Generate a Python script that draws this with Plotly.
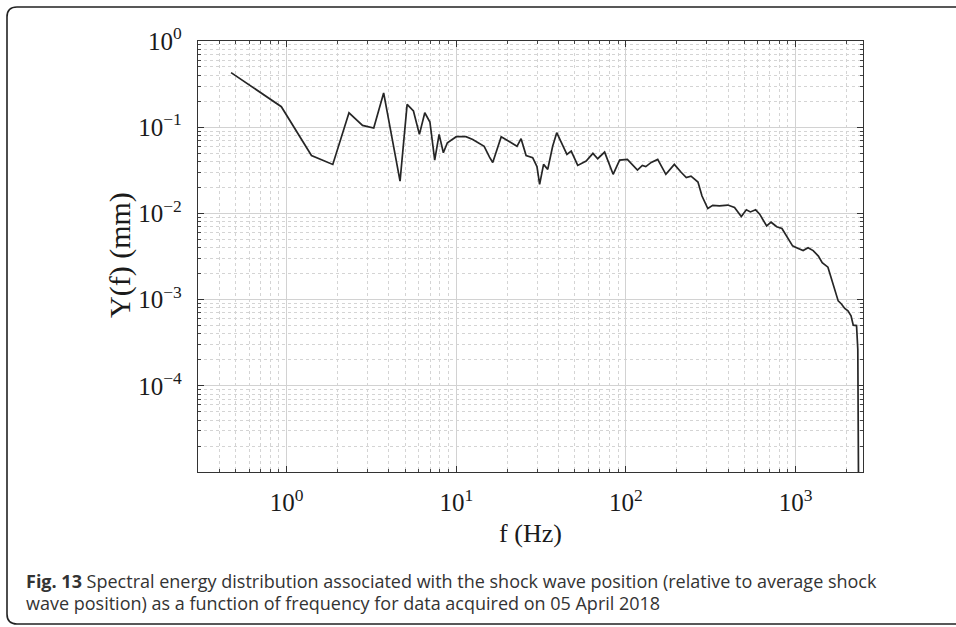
import plotly.graph_objects as go
import math

# ---- data ----
freq_hz = [0.47, 0.93, 1.40, 1.87, 2.33, 2.80, 3.26, 3.73, 4.66, 5.13, 5.59, 6.06, 6.52,
           6.99, 7.46, 7.92, 8.39, 8.86, 10.0, 11.4, 12.5, 13.7, 14.6, 15.7, 16.4, 18.4,
           21.1, 22.8, 24.1, 25.8, 28.2, 29.9, 31.0, 32.7, 34.6, 37.0, 39.1, 41.5, 44.9,
           47.6, 52.0, 58.3, 63.9, 68.2, 74.9, 84.1, 91.8, 102, 117, 125, 131, 141, 154,
           172, 193, 211, 227, 242, 266, 281, 304, 325, 356, 399, 437, 479, 513, 542, 582,
           615, 676, 718, 775, 832, 897, 961, 1030, 1109, 1186, 1271, 1364, 1437, 1553,
           1620, 1690, 1785, 1865, 1952, 2038, 2125, 2190, 2290, 2330, 2360, 2380]
amp_mm = [0.43, 0.173, 0.047, 0.037, 0.147, 0.105, 0.098, 0.25, 0.0237, 0.184, 0.154, 0.0826,
          0.147, 0.115, 0.0416, 0.0826, 0.0506, 0.066, 0.0776, 0.0776, 0.072, 0.065, 0.060,
          0.045, 0.039, 0.0776, 0.066, 0.060, 0.0736, 0.047, 0.0443, 0.0349, 0.0217, 0.037,
          0.0324, 0.060, 0.0863, 0.066, 0.0484, 0.0529, 0.036, 0.0404, 0.0497, 0.0431,
          0.0514, 0.0284, 0.0416, 0.0423, 0.0318, 0.036, 0.0349, 0.039, 0.0423, 0.0284,
          0.037, 0.0302, 0.026, 0.027, 0.0231, 0.0159, 0.0114, 0.0124, 0.0122, 0.0125,
          0.0117, 0.0092, 0.011, 0.0104, 0.011, 0.0098, 0.00714, 0.0079, 0.0070, 0.00667,
          0.00525, 0.0042, 0.00395, 0.00371, 0.0040, 0.0037, 0.0032, 0.00269, 0.00238,
          0.0018, 0.00138, 0.000966, 0.00089, 0.00079, 0.00074, 0.00065, 0.000505, 0.0005,
          0.000266, 1e-7, 1e-7]

x_exponents = [0, 1, 2, 3]
y_exponents = [0, -1, -2, -3, -4]
x_range = [0.3, 2500]
y_range = [1.0e-5, 1.0]

x_title = "f (Hz)"
y_title = "Y(f) (mm)"
caption_bold = "Fig. 13"
caption_line1 = "Spectral energy distribution associated with the shock wave position (relative to average shock"
caption_line2 = "wave position) as a function of frequency for data acquired on 05 April 2018"


def sup_label(e):
    s = "\u2212" + str(-e) if e < 0 else str(e)
    return "10<sup>" + s + "</sup>"


def minor_vals(lo_exp, hi_exp):
    vals = []
    for d in range(lo_exp, hi_exp + 1):
        for m in range(2, 10):
            vals.append(m * 10 ** d)
    return vals


W, H = 956, 627
L, R, T, B = 198, 863, 41, 472
SERIF = "Liberation Serif, Times New Roman, serif"

fig = go.Figure()
fig.add_trace(go.Scatter(x=freq_hz, y=amp_mm, mode="lines",
                         line=dict(color="#262626", width=1.7), showlegend=False))

tick_font = dict(family=SERIF, size=25, color="#1a1a1a")
axis_common = dict(
    type="log", showline=True, linecolor="#333333", linewidth=1.3, mirror="ticks",
    ticks="inside", ticklen=6, tickcolor="#333333", tickwidth=1,
    showgrid=True, gridcolor="#d2d2d2", gridwidth=1, zeroline=False,
    tickfont=tick_font,
)

fig.update_xaxes(
    range=[math.log10(x_range[0]), math.log10(x_range[1])],
    tickmode="array", tickvals=[10 ** e for e in x_exponents],
    ticktext=[sup_label(e) for e in x_exponents],
    minor=dict(tickmode="array", tickvals=minor_vals(-1, 3), ticks="inside", ticklen=3,
               tickcolor="#444444", showgrid=True, gridcolor="#d4d4d4", griddash="dot", gridwidth=1),
    title=dict(text=x_title, font=dict(family=SERIF, size=26, color="#1a1a1a"), standoff=8),
    ticklabelstandoff=8,
    **axis_common,
)
fig.update_yaxes(
    range=[math.log10(y_range[0]), math.log10(y_range[1])],
    tickmode="array", tickvals=[10 ** e for e in y_exponents],
    ticktext=[sup_label(e) for e in y_exponents],
    minor=dict(tickmode="array", tickvals=minor_vals(-5, -1), ticks="inside", ticklen=3,
               tickcolor="#444444", showgrid=True, gridcolor="#d4d4d4", griddash="dot", gridwidth=1),
    ticklabelstandoff=10,
    **axis_common,
)


def px(xp):
    return (xp - L) / (R - L)


def py(yp):
    return (B - yp) / (B - T)


# y-axis title placed as a rotated annotation
fig.add_annotation(
    x=px(120), y=py(255), xref="paper", yref="paper", xanchor="center", yanchor="middle",
    text=y_title, textangle=-90, showarrow=False,
    font=dict(family=SERIF, size=30, color="#1a1a1a"),
)

# page frame (rounded, open to the right/bottom edges)
x0, y0, y1, r = 7, 7, 624, 10
xr = 970
path = (f"M {px(xr)},{py(y0)} L {px(x0 + r)},{py(y0)} "
        f"Q {px(x0)},{py(y0)} {px(x0)},{py(y0 + r)} "
        f"L {px(x0)},{py(y1 - r)} Q {px(x0)},{py(y1)} {px(x0 + r)},{py(y1)} "
        f"L {px(xr)},{py(y1)}")
fig.add_shape(type="path", path=path, xref="paper", yref="paper",
              line=dict(color="#222222", width=1.6), layer="above")

cap_font = dict(family="Open Sans, Noto Sans, sans-serif", size=18, color="#333333")
fig.add_annotation(
    x=px(24), y=py(581), xref="paper", yref="paper", xanchor="left", yanchor="middle",
    text=f"<b>{caption_bold}</b> {caption_line1}", showarrow=False, align="left", font=cap_font,
)
fig.add_annotation(
    x=px(24), y=py(603), xref="paper", yref="paper", xanchor="left", yanchor="middle",
    text=caption_line2, showarrow=False, align="left", font=cap_font,
)

fig.update_layout(
    width=W, height=H, margin=dict(l=L, r=W - R, t=T, b=H - B, pad=0),
    paper_bgcolor="white", plot_bgcolor="white",
)

fig.write_html("out.html", config={"displayModeBar": False},
               post_script="document.body.style.margin='0px';")
